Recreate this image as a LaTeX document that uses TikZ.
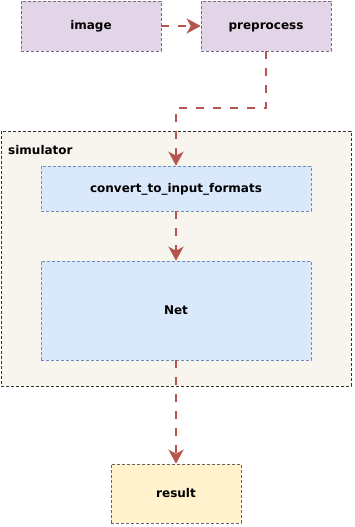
\documentclass[tikz,border=0pt]{standalone}
\usepackage{fontspec}
\setmainfont{DejaVu Sans}
\usetikzlibrary{arrows.meta}
\definecolor{purpfill}{HTML}{E1D5E7}
\definecolor{purpline}{HTML}{7A6A80}
\definecolor{simfill}{HTML}{F8F5EE}
\definecolor{bluefill}{HTML}{DAE8FC}
\definecolor{blueline}{HTML}{6C8EBF}
\definecolor{yellowfill}{HTML}{FFF2CC}
\definecolor{arrowred}{HTML}{B85450}
\tikzset{
  txt/.style={font=\bfseries\fontsize{12}{14}\selectfont},
  box/.style={draw, dashed, dash pattern=on 3pt off 2pt, line width=0.6pt, inner sep=0pt, text height=8pt, text depth=0pt, txt},
  purplebox/.style={box, fill=purpfill, draw=purpline},
  bluebox/.style={box, fill=bluefill, draw=blueline},
  yellowbox/.style={box, fill=yellowfill, draw=black!60},
  simbox/.style={draw=black!80, dashed, dash pattern=on 3pt off 2pt, line width=0.6pt, fill=simfill},
  flow/.style={draw=arrowred, line width=2.5pt, dash pattern=on 8pt off 9pt, -{Stealth[length=14pt,width=15pt,inset=4pt]}},
}
\begin{document}
\begin{tikzpicture}[x=1pt,y=-1pt]
\useasboundingbox (0,0) rectangle (354,527);
\draw[simbox] (1,131) rectangle (351,386);
\node[anchor=west, txt, inner sep=0pt] (simlabel) at (8,150) {simulator};
\node[purplebox, minimum width=140pt, minimum height=50pt] (image) at (91,26) {image};
\node[purplebox, minimum width=130pt, minimum height=50pt] (pre) at (266,26) {preprocess};
\node[bluebox, minimum width=270pt, minimum height=45pt] (conv) at (176,188.5) {convert\_to\_input\_formats};
\node[bluebox, minimum width=270pt, minimum height=99pt] (net) at (176,310.5) {Net};
\node[yellowbox, minimum width=130pt, minimum height=59pt] (res) at (176,493.5) {result};
\coordinate (c1) at (266,108);
\coordinate (c2) at (176,108);
\draw[flow] (image.east) -- (pre.west);
\draw[flow] (pre.south) -- (c1) -- (c2) -- (conv.north);
\draw[flow] (conv.south) -- (net.north);
\draw[flow] (net.south) -- (res.north);
\end{tikzpicture}
\end{document}
